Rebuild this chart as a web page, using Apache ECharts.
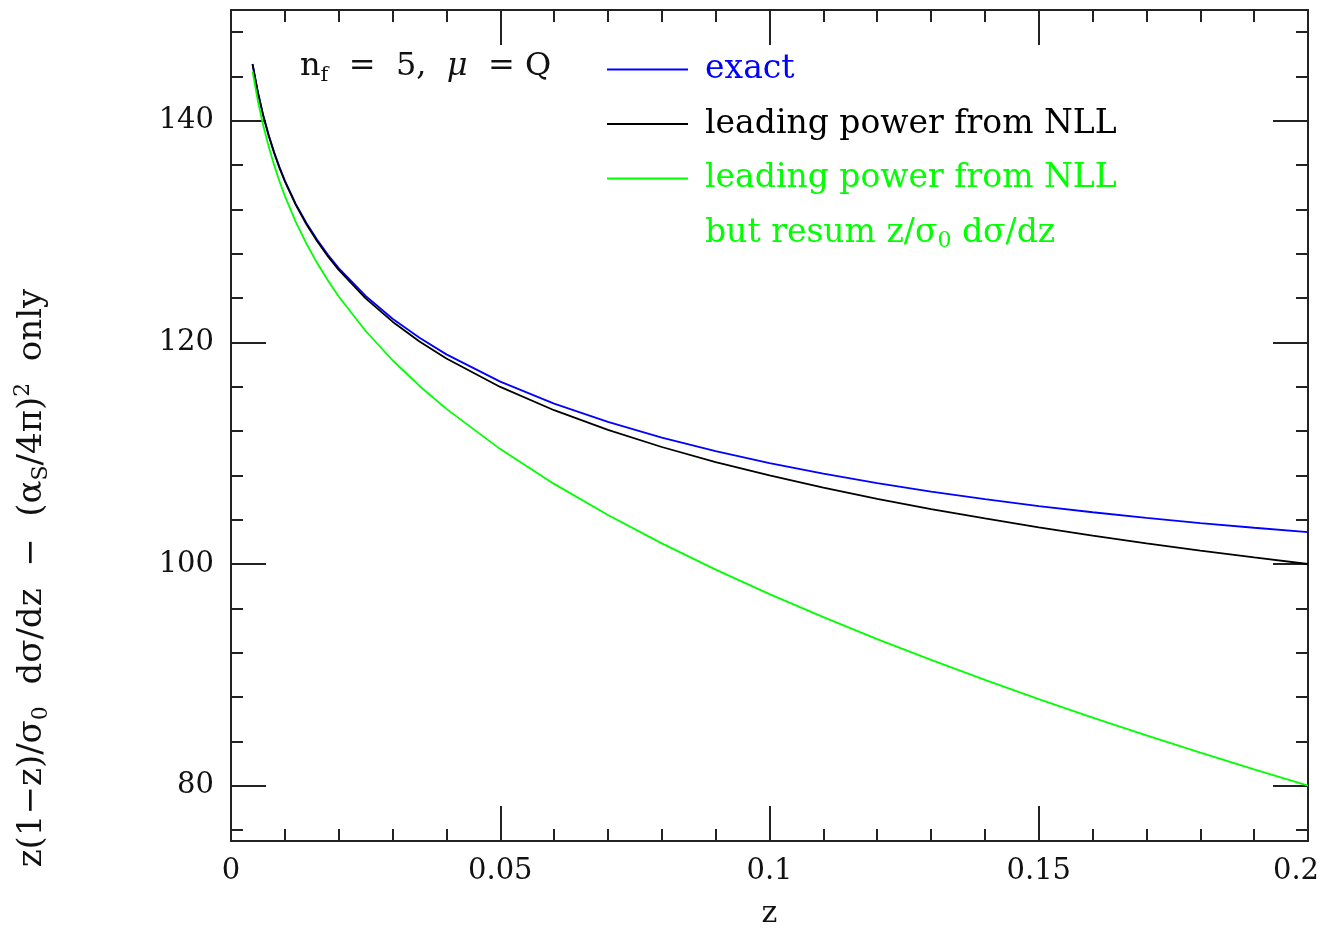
<!DOCTYPE html>
<html><head><meta charset="utf-8">
<script src="https://cdn.jsdelivr.net/npm/echarts@6/dist/echarts.min.js"></script>
<style>html,body{margin:0;padding:0;background:#fff}#c{width:1326px;height:930px}</style>
</head><body><div id="c"></div>
<script>
// ---- data ----
const zValues = [0.004, 0.005, 0.006, 0.007, 0.008, 0.009, 0.01, 0.012, 0.014, 0.016, 0.018, 0.02,
  0.025, 0.03, 0.035, 0.04, 0.05, 0.06, 0.07, 0.08, 0.09, 0.1, 0.11, 0.12, 0.13, 0.14, 0.15,
  0.16, 0.17, 0.18, 0.19, 0.2];
const exactValues = [145.13, 142.57, 140.47, 138.71, 137.18, 135.82, 134.61, 132.53, 130.78, 129.26, 127.91, 126.71,
  124.19, 122.14, 120.41, 118.92, 116.46, 114.48, 112.82, 111.41, 110.18, 109.11, 108.16, 107.30, 106.54, 105.86, 105.23,
  104.67, 104.16, 103.69, 103.27, 102.88];
const nllValues = [145.10, 142.53, 140.42, 138.65, 137.11, 135.75, 134.53, 132.43, 130.66, 129.12, 127.76, 126.54,
  123.97, 121.87, 120.09, 118.55, 115.98, 113.88, 112.10, 110.56, 109.20, 107.99, 106.89, 105.88, 104.96, 104.11, 103.31,
  102.57, 101.87, 101.21, 100.59, 100.00];
const resumValues = [144.45, 141.77, 139.55, 137.67, 136.02, 134.55, 133.22, 130.90, 128.92, 127.16, 125.58, 124.14,
  121.03, 118.39, 116.07, 114.00, 110.37, 107.23, 104.42, 101.86, 99.49, 97.28, 95.20, 93.22, 91.34, 89.54, 87.81,
  86.14, 84.53, 82.97, 81.47, 80.00];
const seriesNames = ['exact', 'leading power from NLL', 'leading power from NLL but resum z/σ0 dσ/dz'];
const legendLabels = ['exact', 'leading power from NLL', 'leading power from NLL'];
const xMajorTicks = [0, 0.05, 0.1, 0.15, 0.2];
const xTickLabels = ['0', '0.05', '0.1', '0.15', '0.2'];
const xMinorTicks = [0.01, 0.02, 0.03, 0.04, 0.06, 0.07, 0.08, 0.09, 0.11, 0.12, 0.13, 0.14, 0.16, 0.17, 0.18, 0.19];
const yMajorTicks = [80, 100, 120, 140];
const yTickLabels = ['80', '100', '120', '140'];
const yMinorTicks = [76, 84, 88, 92, 96, 104, 108, 112, 116, 124, 128, 132, 136, 144, 148];

// ---- chart ----
const FONT = 'DejaVu Serif';
const AX = '#222';
const chart = echarts.init(document.getElementById('c'));

function pairs(vals) { return zValues.map((z, i) => [z, vals[i]]); }

function axis(kind, position, ticks, len, labels, showLine) {
  const isX = kind === 'x';
  return {
    type: 'value', position: position,
    min: isX ? 0 : 75, max: isX ? 0.2 : 150,
    axisLine: { show: showLine, onZero: false, lineStyle: { color: AX, width: 2 } },
    axisTick: { show: true, inside: true, length: len, customValues: ticks, lineStyle: { color: AX, width: 2 } },
    axisLabel: labels ? {
      show: true, customValues: ticks, margin: isX ? 16 : 17,
      fontFamily: FONT, fontSize: 29, color: '#111',
      rich: { last: { fontFamily: FONT, fontSize: 29, color: '#111', padding: [0, 24, 0, 0] } },
      formatter: function (v) {
        let best = 0;
        ticks.forEach((t, i) => { if (Math.abs(t - v) < Math.abs(ticks[best] - v)) best = i; });
        return (isX && best === ticks.length - 1) ? '{last|' + labels[best] + '}' : labels[best];
      }
    } : { show: false },
    splitLine: { show: false }
  };
}

const xAxes = [
  Object.assign(axis('x', 'bottom', xMajorTicks, 35, xTickLabels, true), {
    name: 'z', nameLocation: 'middle', nameGap: 58,
    nameTextStyle: { fontFamily: FONT, fontSize: 30, color: '#111' }
  }),
  axis('x', 'bottom', xMinorTicks, 12, null, false),
  axis('x', 'top', xMajorTicks, 35, null, true),
  axis('x', 'top', xMinorTicks, 12, null, false)
];
const yAxes = [
  axis('y', 'left', yMajorTicks, 35, yTickLabels, true),
  axis('y', 'left', yMinorTicks, 12, null, false),
  axis('y', 'right', yMajorTicks, 35, null, true),
  axis('y', 'right', yMinorTicks, 12, null, false)
];

const colors = ['#0000ff', '#000000', '#00ff00'];
const series = [exactValues, nllValues, resumValues].map((vals, i) => ({
  name: seriesNames[i], type: 'line', data: pairs(vals),
  xAxisIndex: 0, yAxisIndex: 0,
  showSymbol: false, symbol: 'none', smooth: false,
  lineStyle: { color: colors[i], width: 1.8 }, itemStyle: { color: colors[i] },
  emphasis: { disabled: true }, animation: false, z: 2 + i
}));

function rich(size) {
  return {
    n: { fontFamily: FONT, fontSize: size, lineHeight: size + 6 },
    s: { fontFamily: FONT, fontSize: Math.round(size * 0.66), lineHeight: Math.round(size * 0.66), verticalAlign: 'bottom' },
    p: { fontFamily: FONT, fontSize: Math.round(size * 0.66), lineHeight: Math.round(size * 0.66), verticalAlign: 'top' },
    m: { fontFamily: FONT, fontSize: size, lineHeight: size + 6, fontStyle: 'italic' }
  };
}

chart.setOption({
  animation: false,
  backgroundColor: '#fff',
  grid: { left: 231, right: 18, top: 10, bottom: 89, containLabel: false, outerBoundsMode: 'none' },
  xAxis: xAxes,
  yAxis: yAxes,
  legend: {
    left: 607, top: 53, padding: 0, orient: 'vertical', selectedMode: false,
    icon: 'rect', itemWidth: 81, itemHeight: 2, itemGap: 21.5,
    textStyle: { fontFamily: FONT, fontSize: 33, lineHeight: 30, padding: [0, 0, 0, 12] },
    formatter: function (name) { return legendLabels[seriesNames.indexOf(name)]; },
    data: seriesNames.map((n, i) => ({ name: n, textStyle: { color: colors[i] } }))
  },
  graphic: [
    {
      type: 'text', x: 300, y: 67, silent: true,
      style: {
        text: '{n|n}{s|f}{n|  =  5,  }{m|μ}{n|  = Q}', rich: rich(32),
        fill: '#111', align: 'left', verticalAlign: 'middle'
      }
    },
    {
      type: 'text', x: 705, y: 233, silent: true,
      style: {
        text: '{n|but resum z/σ}{s|0}{n| dσ/dz}', rich: rich(33),
        fill: colors[2], align: 'left', verticalAlign: 'middle'
      }
    },
    {
      type: 'text', x: 32, y: 578, rotation: Math.PI / 2, silent: true,
      style: {
        text: '{n|z(1−z)/σ}{s|0}{n|  dσ/dz  −  (α}{s|S}{n|/4π)}{p|2}{n|  only}', rich: rich(34),
        fill: '#111', align: 'center', verticalAlign: 'middle'
      }
    }
  ],
  series: series
});
</script></body></html>
